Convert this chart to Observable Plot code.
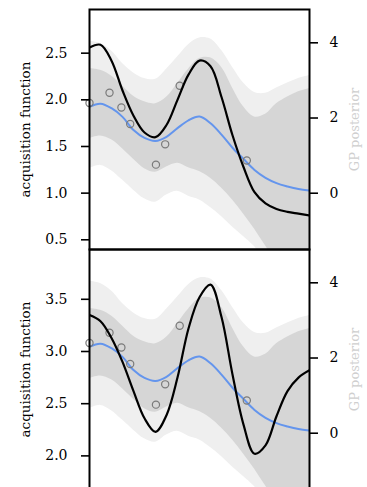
<!DOCTYPE html>
<html><head><meta charset="utf-8">
<script src="https://cdn.jsdelivr.net/npm/d3@7"></script>
<script src="https://cdn.jsdelivr.net/npm/@observablehq/plot@0.6"></script>
<style>
body{margin:0;background:#fff;}
.panel{position:relative;width:367px;}
.panel svg{position:absolute;left:0;top:0;overflow:visible;font-family:"DejaVu Serif",serif !important;}
.panel svg text{font-family:"DejaVu Serif",serif !important;}
</style></head><body>
<div id="p1" class="panel" style="height:249px"></div>
<div id="p2" class="panel" style="height:240px"></div>
<script>
// shared x grid (no x axis shown)
const xs      = [0,0.05,0.1,0.15,0.2,0.25,0.3,0.35,0.4,0.45,0.5,0.55,0.6,0.65,0.7,0.75,0.8,0.85,0.9,0.95,1];
// GP posterior (right axis)
const gpMean  = [2.30,2.38,2.26,2.03,1.68,1.47,1.39,1.50,1.73,1.94,2.04,1.86,1.56,1.21,0.91,0.62,0.41,0.27,0.18,0.11,0.07];
const innerHi = [3.32,3.27,3.12,2.85,2.58,2.43,2.38,2.55,2.92,3.30,3.58,3.60,3.35,2.80,2.30,2.03,2.10,2.38,2.56,2.70,2.78];
const innerLo = [1.45,1.52,1.42,1.18,0.90,0.65,0.56,0.70,0.80,0.68,0.58,0.40,0.14,-0.18,-0.55,-0.95,-1.40,-1.85,-2.20,-2.50,-2.70];
const outerHi = [4.04,3.98,3.78,3.45,3.20,3.05,3.03,3.30,3.62,3.95,4.13,4.10,3.80,3.35,2.93,2.68,2.66,2.80,2.93,3.05,3.13];
const outerLo = [0.65,0.74,0.60,0.35,0.08,-0.15,-0.24,-0.05,0.05,-0.08,-0.18,-0.38,-0.62,-0.90,-1.15,-1.42,-1.80,-2.10,-2.40,-2.70,-2.90];
// observations
const obsX    = [0,0.091,0.145,0.185,0.302,0.344,0.41,0.715];
const obsY    = [2.40,2.67,2.28,1.84,0.76,1.30,2.86,0.87];
// acquisition functions (left axis)
const acqTop    = [2.56,2.59,2.42,2.10,1.83,1.65,1.60,1.73,2.00,2.27,2.42,2.36,2.03,1.62,1.28,1.01,0.89,0.83,0.80,0.78,0.76];
const acqBottom = [3.35,3.29,3.13,2.90,2.62,2.36,2.23,2.39,2.75,3.22,3.52,3.64,3.33,2.78,2.30,2.02,2.10,2.38,2.62,2.75,2.82];
// ticks
const acqTicksTop    = [0.5,1.0,1.5,2.0,2.5];
const acqTicksBottom = [2.0,2.5,3.0,3.5];
const gpTicks        = [0,2,4];
const leftLabel  = "acquisition function";
const rightLabel = "GP posterior";

const grid = xs.map((x,i)=>({x, m:gpMean[i], iL:innerLo[i], iH:innerHi[i], oL:outerLo[i], oH:outerHi[i]}));
const obs  = obsX.map((x,i)=>({x, y:obsY[i]}));

const W = 367, ML = 89, MR = 58;
const FONT = "DejaVu Serif";
const curve = "catmull-rom";

function back(height, marginTop) {
  return Plot.plot({
    width: W, height, marginTop, marginBottom: 0, marginLeft: ML, marginRight: MR,
    style: {fontFamily: FONT, fontSize: "14px", background: "transparent", color: "#000", overflow: "visible"},
    x: {domain: [0,1], axis: null},
    y: {domain: [-1.497, 4.886], axis: null},
    marks: [
      Plot.areaY(grid, {x:"x", y1:"oL", y2:"oH", fill:"#efefef", curve, clip:true}),
      Plot.areaY(grid, {x:"x", y1:"iL", y2:"iH", fill:"#d6d6d6", curve, clip:true}),
      Plot.line(grid, {x:"x", y:"m", stroke:"#6495ed", strokeWidth:2, curve, clip:true}),
      Plot.dot(obs, {x:"x", y:"y", r:3.6, stroke:"#7a7a7a", strokeWidth:1.2, fill:"none"}),
      Plot.axisY(gpTicks, {anchor:"right", tickSize:8, tickPadding:12, strokeWidth:1.6, label:null, fontSize:14, tickFormat:d=>String(d)}),
      Plot.text([rightLabel], {text:d=>d, frameAnchor:"right", textAnchor:"middle", dx:45, rotate:-90, fill:"#cfcfcf", fontSize:13})
    ]
  });
}
function front(height, marginTop, acq, domain, ticks) {
  const data = xs.map((x,i)=>({x, a:acq[i]}));
  return Plot.plot({
    width: W, height, marginTop, marginBottom: 0, marginLeft: ML, marginRight: MR,
    style: {fontFamily: FONT, fontSize: "14px", background: "transparent", color: "#000", overflow: "visible"},
    x: {domain: [0,1], axis: null},
    y: {domain, axis: null},
    marks: [
      Plot.line(data, {x:"x", y:"a", stroke:"#000", strokeWidth:2.2, curve, clip:true}),
      Plot.axisY(ticks, {anchor:"left", tickSize:8, tickPadding:14, strokeWidth:1.6, label:null, fontSize:14, tickFormat:d=>d.toFixed(1)}),
      Plot.text([leftLabel], {text:d=>d, frameAnchor:"left", textAnchor:"middle", dx:-64, rotate:-90, fill:"#000", fontSize:13.5}),
      Plot.frame({stroke:"#000", strokeWidth:2})
    ]
  });
}
const p1 = document.getElementById("p1");
p1.append(back(249, 9), front(249, 9, acqTop, [0.396, 2.968], acqTicksTop));
const p2 = document.getElementById("p2");
p2.append(back(240, 0), front(240, 0, acqBottom, [1.678, 3.977], acqTicksBottom));
</script>
</body></html>
